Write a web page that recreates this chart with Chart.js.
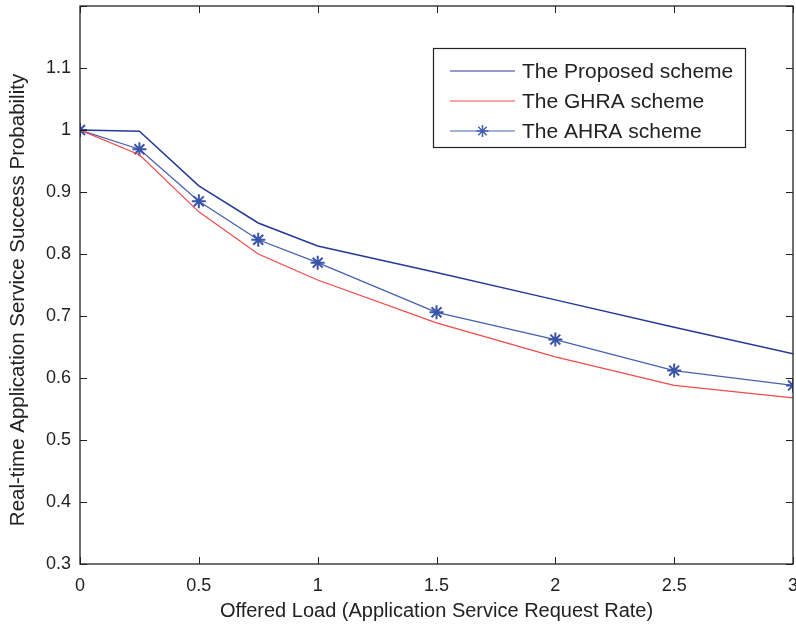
<!DOCTYPE html>
<html>
<head>
<meta charset="utf-8">
<script src="https://cdn.jsdelivr.net/npm/chart.js@4.4.1/dist/chart.umd.min.js"></script>
<style>
  html, body { margin: 0; padding: 0; background: #fff; }
  #wrap { width: 796px; height: 631px; }
</style>
</head>
<body>
<div id="wrap"><canvas id="grafico" width="796" height="631"></canvas></div>
<script>
// datos
const cargas = [0, 0.25, 0.5, 0.75, 1, 1.5, 2, 2.5, 3];
const propuesto = [1.0, 0.998, 0.910, 0.850, 0.813, 0.770, 0.726, 0.682, 0.639];
const ghra = [1.0, 0.960, 0.868, 0.800, 0.758, 0.689, 0.634, 0.588, 0.568];
const ahra = [1.0, 0.969, 0.885, 0.823, 0.786, 0.706, 0.662, 0.612, 0.588];
const nombres = ['The Proposed scheme', 'The GHRA scheme', 'The AHRA scheme'];
const ticksX = [0, 0.5, 1, 1.5, 2, 2.5, 3];
const ticksY = [0.3, 0.4, 0.5, 0.6, 0.7, 0.8, 0.9, 1, 1.1, 1.2];
const tituloY = 'Real-time Application Service Success Probability';

const fuente = "'Liberation Sans Narrow', 'Liberation Sans', Arial, sans-serif";
const colores = ['#26399a', '#f24a4a', '#4660b0'];

function puntos(serie) {
    return cargas.map((x, i) => ({ x: x, y: serie[i] }));
}

// caja, marcas hacia adentro y leyenda estilo matlab
const cajaMatlab = {
    id: 'cajaMatlab',
    afterDatasetsDraw(chart) {
        const ctx = chart.ctx;
        const a = chart.chartArea;
        const sx = chart.scales.x;
        const sy = chart.scales.y;
        ctx.save();
        ctx.strokeStyle = '#222';
        ctx.lineWidth = 1.3;
        ctx.strokeRect(a.left, a.top, a.right - a.left, a.bottom - a.top);
        ctx.lineWidth = 1;
        ticksX.forEach(v => {
            const px = Math.round(sx.getPixelForValue(v)) + 0.5;
            ctx.beginPath();
            ctx.moveTo(px, a.bottom); ctx.lineTo(px, a.bottom - 7);
            ctx.moveTo(px, a.top); ctx.lineTo(px, a.top + 7);
            ctx.stroke();
        });
        ticksY.forEach(v => {
            const py = Math.round(sy.getPixelForValue(v)) + 0.5;
            ctx.beginPath();
            ctx.moveTo(a.left, py); ctx.lineTo(a.left + 7, py);
            ctx.moveTo(a.right, py); ctx.lineTo(a.right - 7, py);
            ctx.stroke();
        });

        // titulo del eje y
        ctx.save();
        ctx.translate(18, 300);
        ctx.rotate(-Math.PI / 2);
        ctx.font = '20.5px ' + fuente;
        ctx.fillStyle = '#222';
        ctx.textAlign = 'center';
        ctx.textBaseline = 'middle';
        ctx.fillText(tituloY, 0, 0);
        ctx.restore();

        // leyenda
        const lx = 433, ly = 48, lw = 312, lh = 99;
        ctx.fillStyle = '#fff';
        ctx.fillRect(lx, ly, lw, lh);
        ctx.strokeStyle = '#222';
        ctx.lineWidth = 1.2;
        ctx.strokeRect(lx + 0.5, ly + 0.5, lw, lh);
        ctx.font = '21px ' + fuente;
        ctx.textBaseline = 'middle';
        ctx.textAlign = 'left';
        nombres.forEach((n, i) => {
            const yy = ly + 23 + i * 30;
            ctx.strokeStyle = colores[i];
            ctx.lineWidth = 1;
            ctx.beginPath();
            ctx.moveTo(450, yy); ctx.lineTo(515, yy);
            ctx.stroke();
            if (i === 2) {
                ctx.beginPath();
                const r = 6;
                ctx.moveTo(482.5 - r, yy); ctx.lineTo(482.5 + r, yy);
                ctx.moveTo(482.5, yy - r); ctx.lineTo(482.5, yy + r);
                ctx.moveTo(482.5 - r * 0.7, yy - r * 0.7); ctx.lineTo(482.5 + r * 0.7, yy + r * 0.7);
                ctx.moveTo(482.5 - r * 0.7, yy + r * 0.7); ctx.lineTo(482.5 + r * 0.7, yy - r * 0.7);
                ctx.lineWidth = 1.5;
                ctx.stroke();
            }
            ctx.fillStyle = '#222';
            ctx.fillText(n, 522, yy + 1);
        });
        ctx.restore();
    }
};

const ctx = document.getElementById('grafico').getContext('2d');
window.grafico = new Chart(ctx, {
    type: 'line',
    data: {
        datasets: [
            {
                label: nombres[0],
                data: puntos(propuesto),
                borderColor: colores[0],
                borderWidth: 1.5,
                pointRadius: 0,
                tension: 0
            },
            {
                label: nombres[1],
                data: puntos(ghra),
                borderColor: colores[1],
                borderWidth: 1.2,
                pointRadius: 0,
                tension: 0
            },
            {
                label: nombres[2],
                data: puntos(ahra),
                borderColor: colores[2],
                borderWidth: 1.3,
                pointStyle: 'star',
                pointRadius: 7,
                pointBorderWidth: 2,
                pointBorderColor: '#3a55a8',
                pointBackgroundColor: '#3a55a8',
                tension: 0
            }
        ]
    },
    options: {
        responsive: false,
        animation: false,
        layout: { autoPadding: false, padding: { left: 0, right: 3, top: 6, bottom: 0 } },
        plugins: {
            legend: { display: false },
            tooltip: { enabled: false }
        },
        scales: {
            x: {
                type: 'linear',
                min: 0,
                max: 3,
                afterBuildTicks: s => { s.ticks = ticksX.map(v => ({ value: v })); },
                afterFit: s => { s.height = 67; s.paddingLeft = 0; s.paddingRight = 0; },
                grid: { display: false, drawTicks: false },
                border: { display: false },
                ticks: {
                    color: '#222',
                    padding: 11,
                    maxRotation: 0,
                    font: { family: fuente, size: 18 },
                    callback: v => String(Math.round(v * 10) / 10)
                },
                title: {
                    display: true,
                    text: 'Offered Load (Application Service Request Rate)',
                    color: '#222',
                    font: { family: fuente, size: 20 },
                    padding: { top: 2, bottom: 8 }
                }
            },
            y: {
                min: 0.3,
                max: 1.2,
                afterBuildTicks: s => { s.ticks = ticksY.map(v => ({ value: v })); },
                afterFit: s => { s.width = 80; s.paddingTop = 0; s.paddingBottom = 0; },
                grid: { display: false, drawTicks: false },
                border: { display: false },
                ticks: {
                    color: '#222',
                    padding: 9,
                    font: { family: fuente, size: 18 },
                    callback: v => (Math.abs(v - 1.2) < 1e-6 ? '' : String(Math.round(v * 10) / 10))
                },
                title: { display: false }
            }
        }
    },
    plugins: [cajaMatlab]
});
</script>
</body>
</html>
